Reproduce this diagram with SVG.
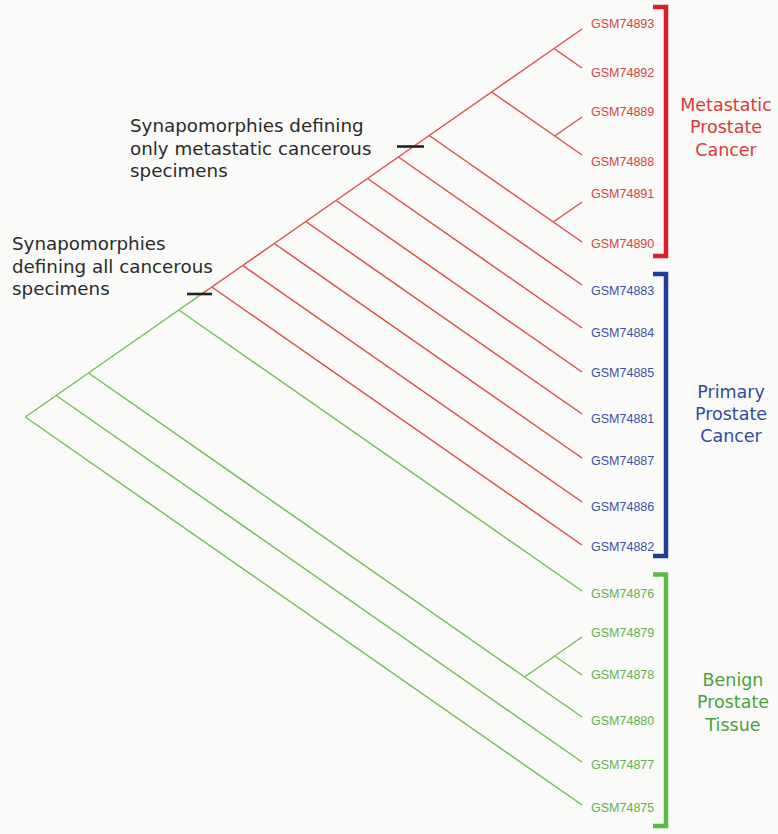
<svg xmlns="http://www.w3.org/2000/svg" width="778" height="834" viewBox="0 0 778 834">
<style>
.r{stroke:#d8524c;stroke-width:1.5;fill:none}
.g{stroke:#74c057;stroke-width:1.5;fill:none}
.tick{stroke:#222;stroke-width:2.6}
.lbl{font-family:"Liberation Sans",Arial,sans-serif;font-size:12.5px}
.lr{fill:#d4453f}.lb{fill:#3a52a2}.lg{fill:#5fb44a}
.grp{font-family:"DejaVu Sans",Verdana,sans-serif;font-size:17.5px;text-anchor:middle}
.ann{font-family:"DejaVu Sans",Verdana,sans-serif;font-size:18.3px;fill:#2b2b2b}
.br{fill:none;stroke-width:4.5}
</style>
<rect width="778" height="834" fill="#fafaf9"/>
<g id="connectors">
<!-- benign (green) -->
<line class="g" x1="25.3" y1="417" x2="56.2" y2="395.5"/>
<line class="g" x1="25.3" y1="417" x2="582" y2="805"/>
<line class="g" x1="56.2" y1="395.5" x2="88.5" y2="373"/>
<line class="g" x1="56.2" y1="395.5" x2="582" y2="762"/>
<line class="g" x1="88.5" y1="373" x2="178.8" y2="310"/>
<line class="g" x1="88.5" y1="373" x2="524.6" y2="677"/>
<line class="g" x1="524.6" y1="677" x2="554.7" y2="656"/>
<line class="g" x1="524.6" y1="677" x2="582" y2="717"/>
<line class="g" x1="554.7" y1="656" x2="582" y2="637"/>
<line class="g" x1="554.7" y1="656" x2="582" y2="675"/>
<line class="g" x1="178.8" y1="310" x2="582" y2="591"/>
<line class="g" x1="178.8" y1="310" x2="200" y2="295.2"/>
<!-- cancer (red) -->
<line class="r" x1="200" y1="295.2" x2="211.8" y2="287"/>
<line class="r" x1="211.8" y1="287" x2="582" y2="545"/>
<line class="r" x1="211.8" y1="287" x2="242.7" y2="265.5"/>
<line class="r" x1="242.7" y1="265.5" x2="582" y2="502"/>
<line class="r" x1="242.7" y1="265.5" x2="274.3" y2="243.5"/>
<line class="r" x1="274.3" y1="243.5" x2="582" y2="458"/>
<line class="r" x1="274.3" y1="243.5" x2="305.8" y2="221.5"/>
<line class="r" x1="305.8" y1="221.5" x2="582" y2="414"/>
<line class="r" x1="305.8" y1="221.5" x2="336" y2="200.5"/>
<line class="r" x1="336" y1="200.5" x2="582" y2="372"/>
<line class="r" x1="336" y1="200.5" x2="367.5" y2="178.5"/>
<line class="r" x1="367.5" y1="178.5" x2="582" y2="328"/>
<line class="r" x1="367.5" y1="178.5" x2="398.4" y2="157"/>
<line class="r" x1="398.4" y1="157" x2="582" y2="285"/>
<line class="r" x1="398.4" y1="157" x2="429.2" y2="135.5"/>
<line class="r" x1="429.2" y1="135.5" x2="491.6" y2="92"/>
<line class="r" x1="429.2" y1="135.5" x2="553.3" y2="222"/>
<line class="r" x1="553.3" y1="222" x2="582" y2="202"/>
<line class="r" x1="553.3" y1="222" x2="582" y2="242"/>
<line class="r" x1="491.6" y1="92" x2="554" y2="48.5"/>
<line class="r" x1="491.6" y1="92" x2="554.7" y2="136"/>
<line class="r" x1="554" y1="48.5" x2="582" y2="29"/>
<line class="r" x1="554" y1="48.5" x2="582" y2="68"/>
<line class="r" x1="554.7" y1="136" x2="582" y2="117"/>
<line class="r" x1="554.7" y1="136" x2="582" y2="155"/>
</g>
<g id="synapomorphy-marks">
<line class="tick" x1="187" y1="294" x2="212" y2="294"/>
<line class="tick" x1="397" y1="146.5" x2="424" y2="146.5"/>
</g>
<g id="annotation-metastatic" class="ann">
<text x="130" y="132">Synapomorphies defining</text>
<text x="130" y="154.5">only metastatic cancerous</text>
<text x="130" y="177">specimens</text>
</g>
<g id="annotation-all" class="ann">
<text x="12" y="250">Synapomorphies</text>
<text x="12" y="272.5">defining all cancerous</text>
<text x="12" y="295">specimens</text>
</g>
<g id="leaf-GSM74893"><text class="lbl lr" x="591" y="28">GSM74893</text></g>
<g id="leaf-GSM74892"><text class="lbl lr" x="591" y="77">GSM74892</text></g>
<g id="leaf-GSM74889"><text class="lbl lr" x="591" y="116">GSM74889</text></g>
<g id="leaf-GSM74888"><text class="lbl lr" x="591" y="166">GSM74888</text></g>
<g id="leaf-GSM74891"><text class="lbl lr" x="591" y="198">GSM74891</text></g>
<g id="leaf-GSM74890"><text class="lbl lr" x="591" y="248">GSM74890</text></g>
<g id="leaf-GSM74883"><text class="lbl lb" x="591" y="295">GSM74883</text></g>
<g id="leaf-GSM74884"><text class="lbl lb" x="591" y="337">GSM74884</text></g>
<g id="leaf-GSM74885"><text class="lbl lb" x="591" y="377">GSM74885</text></g>
<g id="leaf-GSM74881"><text class="lbl lb" x="591" y="423">GSM74881</text></g>
<g id="leaf-GSM74887"><text class="lbl lb" x="591" y="465">GSM74887</text></g>
<g id="leaf-GSM74886"><text class="lbl lb" x="591" y="511">GSM74886</text></g>
<g id="leaf-GSM74882"><text class="lbl lb" x="591" y="551">GSM74882</text></g>
<g id="leaf-GSM74876"><text class="lbl lg" x="591" y="598">GSM74876</text></g>
<g id="leaf-GSM74879"><text class="lbl lg" x="591" y="637">GSM74879</text></g>
<g id="leaf-GSM74878"><text class="lbl lg" x="591" y="679">GSM74878</text></g>
<g id="leaf-GSM74880"><text class="lbl lg" x="591" y="725">GSM74880</text></g>
<g id="leaf-GSM74877"><text class="lbl lg" x="591" y="769">GSM74877</text></g>
<g id="leaf-GSM74875"><text class="lbl lg" x="591" y="812">GSM74875</text></g>
<g id="group-metastatic">
<path class="br" stroke="#d7202b" d="M653,7 H666 V256 H653"/>
<text class="grp" fill="#d63a3a" x="726" y="110.5">Metastatic</text>
<text class="grp" fill="#d63a3a" x="726" y="133">Prostate</text>
<text class="grp" fill="#d63a3a" x="726" y="155.5">Cancer</text>
</g>
<g id="group-primary">
<path class="br" stroke="#1f3d97" d="M653,274 H666 V556 H653"/>
<text class="grp" fill="#2f4c9c" x="731" y="398">Primary</text>
<text class="grp" fill="#2f4c9c" x="731" y="420">Prostate</text>
<text class="grp" fill="#2f4c9c" x="731" y="442">Cancer</text>
</g>
<g id="group-benign">
<path class="br" stroke="#5cb944" d="M653,574.5 H666 V826 H653"/>
<text class="grp" fill="#4aa23a" x="733" y="686">Benign</text>
<text class="grp" fill="#4aa23a" x="733" y="708">Prostate</text>
<text class="grp" fill="#4aa23a" x="733" y="731">Tissue</text>
</g>
</svg>
